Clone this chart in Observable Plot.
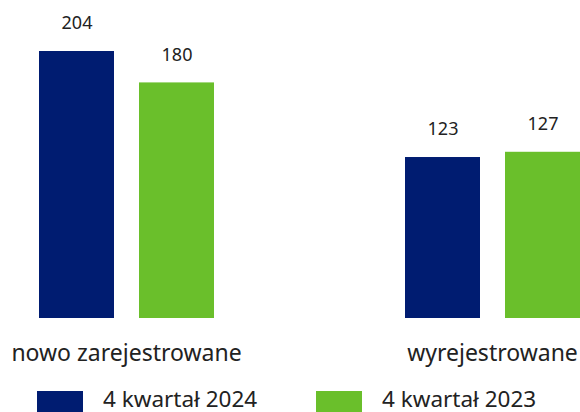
<!DOCTYPE html>
<html>
<head>
<meta charset="utf-8">
<script src="https://cdn.jsdelivr.net/npm/d3@7"></script>
<script src="https://cdn.jsdelivr.net/npm/@observablehq/plot@0.6"></script>
<style>
  html, body { margin: 0; padding: 0; background: #fff; }
  body { width: 580px; height: 412px; overflow: hidden; font-family: "Noto Sans", sans-serif; }
  #legend { position: relative; height: 40px; }
  .item { position: absolute; top: 19px; display: flex; align-items: flex-start; font-size: 22.5px; color: #222; }
  .sw { width: 46px; height: 21px; margin-right: 20px; }
  .lbl { line-height: 20px; margin-top: -2px; white-space: nowrap; }
</style>
</head>
<body>
<div id="chart"></div>
<div id="legend"></div>
<script>
const categories = ["nowo zarejestrowane", "wyrejestrowane"];
const seriesNames = ["4 kwartał 2024", "4 kwartał 2023"];
const values2024 = [204, 123];
const values2023 = [180, 127];
const colors = ["#001c71", "#6abf2b"];

const data = [];
categories.forEach((c, i) => {
  data.push({category: c, series: seriesNames[0], value: values2024[i]});
  data.push({category: c, series: seriesNames[1], value: values2023[i]});
});

const plot = Plot.plot({
  width: 580,
  height: 372,
  marginTop: 51,
  marginBottom: 54,
  marginLeft: 37,
  marginRight: 0,
  style: {fontFamily: "Noto Sans, sans-serif", fontSize: "18px", color: "#222", overflow: "visible"},
  fx: {domain: categories, paddingInner: 0.52, paddingOuter: 0, label: null, axis: null},
  x: {domain: seriesNames, paddingInner: 0.25, paddingOuter: 0, axis: null},
  y: {domain: [0, 204], axis: null},
  color: {domain: seriesNames, range: colors},
  marks: [
    Plot.barY(data, {fx: "category", x: "series", y: "value", fill: "series"}),
    Plot.text(data, {fx: "category", x: "series", y: "value", text: d => String(d.value), dy: -28, lineAnchor: "middle", fontSize: 18, fill: "#222"}),
    Plot.axisFx({anchor: "bottom", tickSize: 0, tickPadding: 26, fontSize: 23, label: null, fill: "#222"})
  ]
});
document.getElementById("chart").appendChild(plot);

const legend = document.getElementById("legend");
const lefts = [37, 316];
seriesNames.forEach((s, i) => {
  const it = document.createElement("div");
  it.className = "item";
  it.style.left = lefts[i] + "px";
  const sw = document.createElement("div");
  sw.className = "sw";
  sw.style.background = colors[i];
  const lb = document.createElement("div");
  lb.className = "lbl";
  lb.textContent = s;
  it.appendChild(sw);
  it.appendChild(lb);
  legend.appendChild(it);
});
</script>
</body>
</html>
